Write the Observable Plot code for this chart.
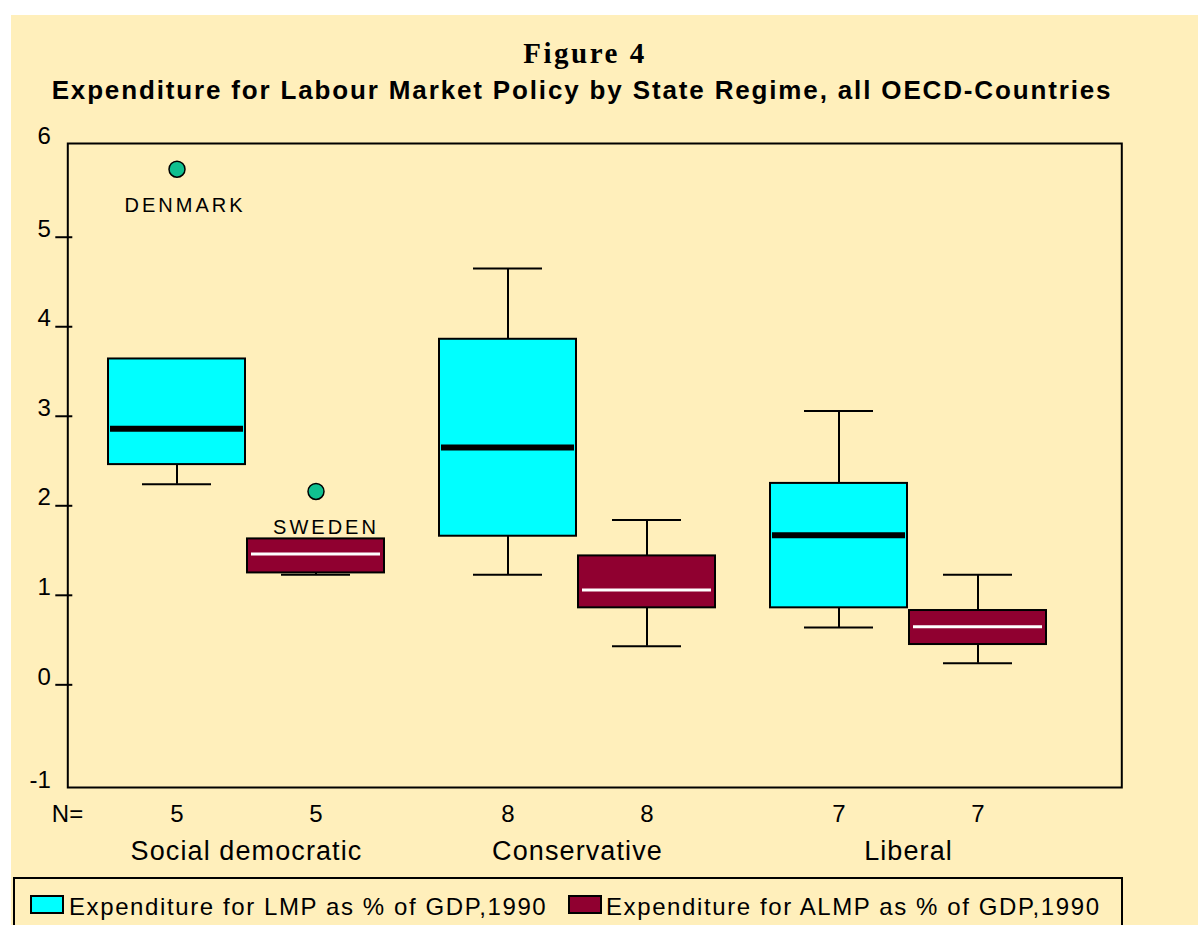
<!DOCTYPE html>
<html><head><meta charset="utf-8">
<script src="https://cdn.jsdelivr.net/npm/d3@7"></script>
<script src="https://cdn.jsdelivr.net/npm/@observablehq/plot@0.6"></script>
<style>
body{margin:0;background:#fff;width:1198px;height:925px;overflow:hidden;position:relative;font-family:"Liberation Sans",Arial,sans-serif;}
#bg{position:absolute;left:11px;top:15px;width:1187px;height:910px;background:#FFEFBB;}
#title{position:absolute;left:0;width:1170px;top:39px;text-align:center;font:bold 29px/29px "Liberation Serif",serif;letter-spacing:2.5px;color:#000;}
#subtitle{position:absolute;left:0;width:1164px;top:77px;text-align:center;font:bold 26px/26px "Liberation Sans",Arial,sans-serif;color:#000;letter-spacing:1.85px;}
#chart{position:absolute;left:0;top:110px;}
#legend{position:absolute;left:13px;top:877px;width:1110px;height:70px;border:2px solid #000;box-sizing:border-box;}
.sw{position:absolute;top:16px;width:34px;height:19px;border:2px solid #000;box-sizing:border-box;}
.lt{position:absolute;top:16px;font:24px/24px "Liberation Sans",Arial,sans-serif;letter-spacing:1.6px;color:#000;white-space:nowrap;}
</style>
</head><body>
<div id="bg"></div>
<div id="title"></div>
<div id="subtitle"></div>
<div id="chart"></div>
<div id="legend"></div>
<script>
const titleText = "Figure 4";
const subtitleText = "Expenditure for Labour Market Policy by State Regime, all OECD-Countries";
const regimes = ["Social democratic", "Conservative", "Liberal"];
const series = ["LMP", "ALMP"];
const seriesLabels = ["Expenditure for LMP as % of GDP,1990", "Expenditure for ALMP as % of GDP,1990"];
const seriesColors = ["#00FFFF", "#900030"];
const boxRegime = ["Social democratic", "Social democratic", "Conservative", "Conservative", "Liberal", "Liberal"];
const boxSeries = ["LMP", "ALMP", "LMP", "ALMP", "LMP", "ALMP"];
const nCases = [5, 5, 8, 8, 7, 7];
const whiskerLow = [2.24, 1.23, 1.23, 0.43, 0.64, 0.24];
const quart1 = [2.46, 1.25, 1.66, 0.86, 0.86, 0.45];
const medians = [2.86, 1.46, 2.65, 1.06, 1.67, 0.65];
const quart3 = [3.64, 1.63, 3.86, 1.44, 2.25, 0.83];
const whiskerHigh = [3.64, 1.63, 4.65, 1.84, 3.06, 1.23];
const outlierNames = ["DENMARK", "SWEDEN"];
const outlierRegime = ["Social democratic", "Social democratic"];
const outlierSeries = ["LMP", "ALMP"];
const outlierValues = [5.76, 2.16];
const yTicks = [0, 1, 2, 3, 4, 5];
const yLabelTicks = [0, 1, 2, 3, 4, 5];
const yTopTick = [6];
const yBottomTick = [-1];

document.getElementById("title").textContent = titleText;
document.getElementById("subtitle").textContent = subtitleText;

const boxes = boxSeries.map((s, i) => ({
  regime: boxRegime[i], series: s, n: nCases[i],
  low: whiskerLow[i], q1: quart1[i], med: medians[i], q3: quart3[i], high: whiskerHigh[i]
}));
const outliers = outlierNames.map((name, i) => ({
  name, regime: outlierRegime[i], series: outlierSeries[i], value: outlierValues[i]
}));
const colorOf = s => seriesColors[series.indexOf(s)];

// facet bands leave some room inside the frame; the frame and left axis reach out to it
const padL = 40.7, padR = 75.3;

const chart = Plot.plot({
  width: 1198,
  height: 770,
  marginLeft: 67,
  marginRight: 76,
  marginTop: 33,
  marginBottom: 93,
  style: {background: "transparent", fontFamily: "'Liberation Sans', Arial, sans-serif", color: "#000"},
  fx: {domain: regimes, paddingInner: 0.167, paddingOuter: 0.175, align: 0.351},
  x: {domain: series, paddingInner: 0.015, paddingOuter: 0, axis: null},
  y: {domain: [-1.147, 6.047], axis: null},
  color: {type: "identity"},
  marks: [
    Plot.frame({facet: "super", stroke: "#000", strokeWidth: 2, insetLeft: -padL, insetRight: -padR}),
    Plot.ruleX(boxes, {fx: "regime", x: "series", y1: "low", y2: "q1", stroke: "#000", strokeWidth: 2}),
    Plot.ruleX(boxes, {fx: "regime", x: "series", y1: "q3", y2: "high", stroke: "#000", strokeWidth: 2}),
    Plot.tickY(boxes.filter(d => d.high > d.q3), {fx: "regime", x: "series", y: "high", stroke: "#000", strokeWidth: 2, inset: 34}),
    Plot.tickY(boxes.filter(d => d.low < d.q1), {fx: "regime", x: "series", y: "low", stroke: "#000", strokeWidth: 2, inset: 34}),
    Plot.barY(boxes, {fx: "regime", x: "series", y1: "q1", y2: "q3", fill: d => colorOf(d.series), stroke: "#000", strokeWidth: 2}),
    Plot.tickY(boxes.filter(d => d.series === "LMP"), {fx: "regime", x: "series", y: "med", stroke: "#000", strokeWidth: 6, inset: 2}),
    Plot.tickY(boxes.filter(d => d.series === "ALMP"), {fx: "regime", x: "series", y: "med", stroke: "#fff", strokeWidth: 3, inset: 4}),
    Plot.dot(outliers, {fx: "regime", x: "series", y: "value", r: 8, fill: "#10C090", stroke: "#000", strokeWidth: 1.5}),
    Plot.text(outliers.filter(d => d.series === "LMP"), {fx: "regime", x: "series", y: "value", text: "name", dy: 36, dx: 8, fontSize: 20, fill: "#000"}),
    Plot.text(outliers.filter(d => d.series === "ALMP"), {fx: "regime", x: "series", y: "value", text: "name", dy: 36, dx: 10, fontSize: 20, fill: "#000"}),
    Plot.text(boxes, {fx: "regime", x: "series", text: d => String(d.n), frameAnchor: "bottom", dy: 34, fontSize: 24, fill: "#000"}),
    Plot.text(["N="], {facet: "super", frameAnchor: "bottom-left", textAnchor: "start", dx: -16 - padL, dy: 34, fontSize: 24, fill: "#000"}),
    Plot.axisY({ticks: yTicks, tickSize: 17, dx: 5 - padL, tickFormat: () => "", strokeWidth: 2, stroke: "#000"}),
    Plot.axisY({ticks: yLabelTicks, tickSize: 0, tickPadding: 17, dx: -padL, dy: -8, fontSize: 24, fill: "#000", label: null, tickFormat: d => String(d)}),
    Plot.axisY({ticks: yTopTick, tickSize: 0, tickPadding: 17, dx: -padL, dy: -11, fontSize: 24, fill: "#000", label: null, tickFormat: d => String(d)}),
    Plot.axisY({ticks: yBottomTick, tickSize: 0, tickPadding: 17, dx: -padL, dy: 6, fontSize: 24, fill: "#000", label: null, tickFormat: d => String(d)}),
    Plot.axisFx({anchor: "bottom", tickSize: 0, tickPadding: 53, fontSize: 27, label: null, fill: "#000"})
  ]
});
document.getElementById("chart").appendChild(chart);

// letter spacing of the original's bitmap lettering
d3.select(chart).selectAll("text").each(function () {
  const t = this.textContent;
  if (outlierNames.includes(t)) this.style.letterSpacing = "3px";
  else if (regimes.includes(t)) this.style.letterSpacing = "1.1px";
});

const legend = document.getElementById("legend");
const swLeft = [15, 553];
const txLeft = [54, 591];
series.forEach((s, i) => {
  const sw = document.createElement("div");
  sw.className = "sw";
  sw.style.left = swLeft[i] + "px";
  sw.style.background = seriesColors[i];
  legend.appendChild(sw);
  const t = document.createElement("div");
  t.className = "lt";
  t.style.left = txLeft[i] + "px";
  t.textContent = seriesLabels[i];
  legend.appendChild(t);
});
</script>
</body></html>
